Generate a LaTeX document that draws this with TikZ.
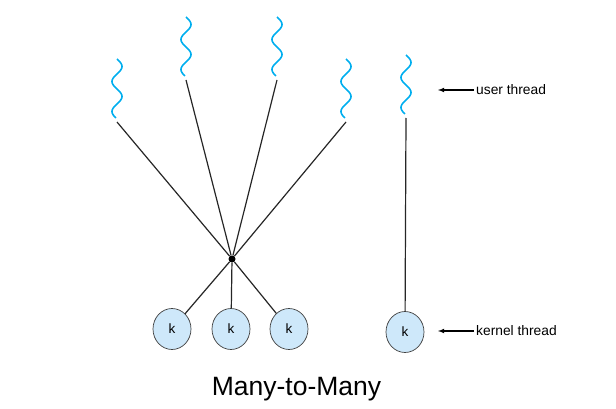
\documentclass[tikz,border=0pt]{standalone}
\usepackage{fontspec}
\setmainfont{Liberation Sans}
\usetikzlibrary{shapes.geometric,arrows}

\definecolor{threadblue}{RGB}{0,174,239}
\definecolor{kfill}{RGB}{206,232,250}

\begin{document}
\begin{tikzpicture}[x=1pt,y=-1pt,
        wave/.style={threadblue,line width=1.6pt},
        link/.style={black!85,line width=1.2pt},
        kthread/.style={ellipse,draw=black!75,line width=0.7pt,fill=kfill,minimum width=38pt,minimum height=41pt,inner sep=0pt,font=\fontsize{13.5}{16}\selectfont},
        tag/.style={anchor=west,inner sep=2pt,font=\fontsize{13.8}{16}\selectfont}]
                \useasboundingbox (0,0) rectangle (616,409);
                \foreach \n/\cx/\ty in {1/117/59,2/186/17,3/277/17,4/346/59,5/406/55} {
                    \draw[wave,domain=0:59,samples=80,variable=\t] plot ({\cx+5*sin(12*\t)},{\ty+\t});
                    \coordinate (u\n) at (\cx,\ty+63);
                }
                \node[circle,fill=black,inner sep=0pt,minimum size=7pt] (hub) at (232,259) {};
                \node[kthread] (k1) at (172,329) {k};
                \node[kthread] (k2) at (231,329) {k};
                \node[kthread] (k3) at (289,329) {k};
                \node[kthread] (k4) at (405,332) {k};
                \foreach \n in {1,...,4} \draw[link] (u\n) -- (hub);
                \foreach \n in {1,2,3} \draw[link] (hub) -- (k\n);
                \draw[link] (u5) -- (k4);
                \node[tag] (utag) at (474,90) {user thread};
                \node[tag] (ktag) at (474,331) {kernel thread};
                \coordinate (uend) at (438,90);
                \coordinate (kend) at (438,331);
                \draw[line width=1.1pt,->,>=latex] (utag.west) -- (uend);
                \draw[line width=1.1pt,->,>=latex] (ktag.west) -- (kend);
                \node[anchor=base,font=\fontsize{26.5}{30}\selectfont] (title) at (296.5,395) {Many-to-Many};
            \end{tikzpicture}
\end{document}
